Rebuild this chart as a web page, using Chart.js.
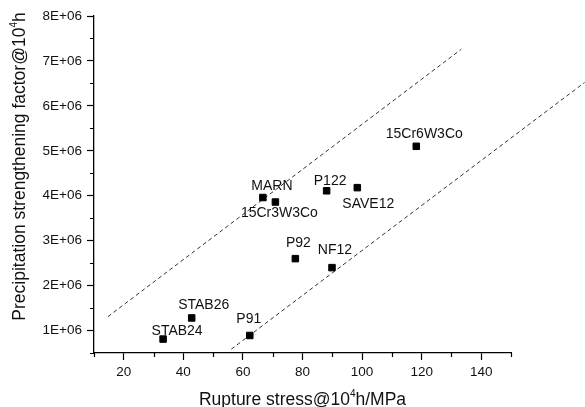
<!DOCTYPE html>
<html>
<head>
<meta charset="utf-8">
<script src="https://cdn.jsdelivr.net/npm/chart.js@4"></script>
<style>
html,body{margin:0;padding:0;background:#fff;}
#wrap{width:585px;height:407px;position:relative;}
</style>
</head>
<body>
<div id="wrap"><canvas id="c" width="585" height="407"></canvas></div>
<script>
// ---- data ----
const alloys = ['STAB24','STAB26','P91','P92','NF12','MARN','15Cr3W3Co','P122','SAVE12','15Cr6W3Co'];
const ruptureStress = [33.2, 42.8, 62.3, 77.6, 89.9, 66.7, 70.9, 88.1, 98.4, 118.2];
const strengthFactor = [0.81e6, 1.28e6, 0.89e6, 2.60e6, 2.40e6, 3.96e6, 3.86e6, 4.11e6, 4.18e6, 5.10e6];
const upperLineX = [14.7, 133.3];
const upperLineY = [1.31e6, 7.26e6];
const lowerLineX = [56.1, 174.7];
const lowerLineY = [0.585e6, 6.52e6];
const xTicks = [20, 40, 60, 80, 100, 120, 140];
const xMinorTicks = [10, 30, 50, 70, 90, 110, 130, 150];
const yTicks = [1e6, 2e6, 3e6, 4e6, 5e6, 6e6, 7e6, 8e6];
const yMinorTicks = [0.5e6, 1.5e6, 2.5e6, 3.5e6, 4.5e6, 5.5e6, 6.5e6, 7.5e6];

// label placement (pixel offsets of text centre from point)
const labelOffsets = {
  'STAB24':[14,-8], 'STAB26':[12,-13], 'P91':[-1,-16], 'P92':[3,-15], 'NF12':[3,-17],
  'MARN':[9,-11], '15Cr3W3Co':[4,11], 'P122':[3.5,-10], 'SAVE12':[11,16], '15Cr6W3Co':[8,-12]
};

const FONT = '"Liberation Sans", Arial, Helvetica, sans-serif';
const INK = '#111';

const toXY = (xs, ys) => xs.map((x, i) => ({x: x, y: ys[i]}));

const pointLabels = {
  id: 'pointLabels',
  afterDatasetsDraw(chart) {
    const ctx = chart.ctx;
    const meta = chart.getDatasetMeta(0);
    ctx.save();
    ctx.font = '14px ' + FONT;
    ctx.fillStyle = INK;
    ctx.textAlign = 'center';
    ctx.textBaseline = 'middle';
    meta.data.forEach((el, i) => {
      const off = labelOffsets[alloys[i]] || [0, -12];
      ctx.fillText(alloys[i], el.x + off[0], el.y + off[1]);
    });
    ctx.restore();
  }
};

function drawSupText(ctx, parts, cx, y, size) {
  // parts: [[text, isSup], ...]
  let total = 0;
  const widths = parts.map(p => {
    ctx.font = (p[1] ? Math.round(size * 0.58) : size) + 'px ' + FONT;
    const w = ctx.measureText(p[0]).width;
    total += w;
    return w;
  });
  let x = cx - total / 2;
  ctx.textAlign = 'left';
  ctx.textBaseline = 'alphabetic';
  parts.forEach((p, i) => {
    ctx.font = (p[1] ? Math.round(size * 0.58) : size) + 'px ' + FONT;
    ctx.fillText(p[0], x, p[1] ? y - size * 0.45 : y);
    x += widths[i];
  });
}

const axesDecor = {
  id: 'axesDecor',
  afterDraw(chart) {
    const ctx = chart.ctx;
    const xs = chart.scales.x, ys = chart.scales.y;
    const a = chart.chartArea;
    ctx.save();
    ctx.strokeStyle = '#000';
    ctx.lineWidth = 1.2;
    ctx.beginPath();
    xMinorTicks.forEach(v => {
      const px = Math.round(xs.getPixelForValue(v)) + 0.5;
      ctx.moveTo(px, a.bottom);
      ctx.lineTo(px, a.bottom + 4);
    });
    yMinorTicks.forEach(v => {
      const py = Math.round(ys.getPixelForValue(v)) + 0.5;
      ctx.moveTo(a.left, py);
      ctx.lineTo(a.left - 4, py);
    });
    ctx.stroke();
    ctx.fillStyle = INK;
    const size = 17.5;
    drawSupText(ctx, [['Rupture stress@10', false], ['4', true], ['h/MPa', false]],
      (a.left + a.right) / 2, 404.5, size);
    ctx.translate(25, 166.5);
    ctx.rotate(-Math.PI / 2);
    drawSupText(ctx, [['Precipitation strengthening factor@10', false], ['4', true], ['h', false]],
      0, 0, size);
    ctx.restore();
  }
};

new Chart(document.getElementById('c'), {
  type: 'scatter',
  data: {
    datasets: [
      {
        label: 'alloys',
        data: toXY(ruptureStress, strengthFactor),
        pointStyle: 'rect',
        pointRadius: 4.6,
        pointHoverRadius: 4.6,
        backgroundColor: '#000',
        borderColor: '#000',
        borderWidth: 1,
        showLine: false
      },
      {
        label: 'upper',
        data: toXY(upperLineX, upperLineY),
        showLine: true,
        pointRadius: 0,
        borderColor: '#333',
        borderWidth: 1,
        borderDash: [4, 3],
        clip: false
      },
      {
        label: 'lower',
        data: toXY(lowerLineX, lowerLineY),
        showLine: true,
        pointRadius: 0,
        borderColor: '#333',
        borderWidth: 1,
        borderDash: [4, 3],
        clip: false
      }
    ]
  },
  options: {
    responsive: false,
    animation: false,
    events: [],
    layout: { padding: { left: 0, right: 74, top: 16, bottom: 0 } },
    plugins: { legend: { display: false }, tooltip: { enabled: false }, title: { display: false } },
    scales: {
      x: {
        type: 'linear',
        min: 10, max: 150,
        afterBuildTicks: axis => { axis.ticks = xTicks.map(v => ({ value: v })); },
        afterFit: s => { s.height = 54; },
        border: { display: true, color: '#000', width: 1.3 },
        grid: { display: true, drawOnChartArea: false, drawTicks: true, tickLength: 7, tickColor: '#000', tickWidth: 1.2 },
        ticks: { color: INK, font: { family: FONT, size: 13.5 }, padding: 4, maxRotation: 0, autoSkip: false,
                 callback: v => String(v) }
      },
      y: {
        type: 'linear',
        min: 0.5e6, max: 8e6,
        afterBuildTicks: axis => { axis.ticks = yTicks.map(v => ({ value: v })); },
        afterFit: s => { s.width = 94; },
        border: { display: true, color: '#000', width: 1.3 },
        grid: { display: true, drawOnChartArea: false, drawTicks: true, tickLength: 7, tickColor: '#000', tickWidth: 1.2 },
        ticks: { color: INK, font: { family: FONT, size: 13.5 }, padding: 5, autoSkip: false,
                 callback: v => Math.round(v / 1e6) + 'E+06' }
      }
    }
  },
  plugins: [pointLabels, axesDecor]
});
</script>
</body>
</html>
